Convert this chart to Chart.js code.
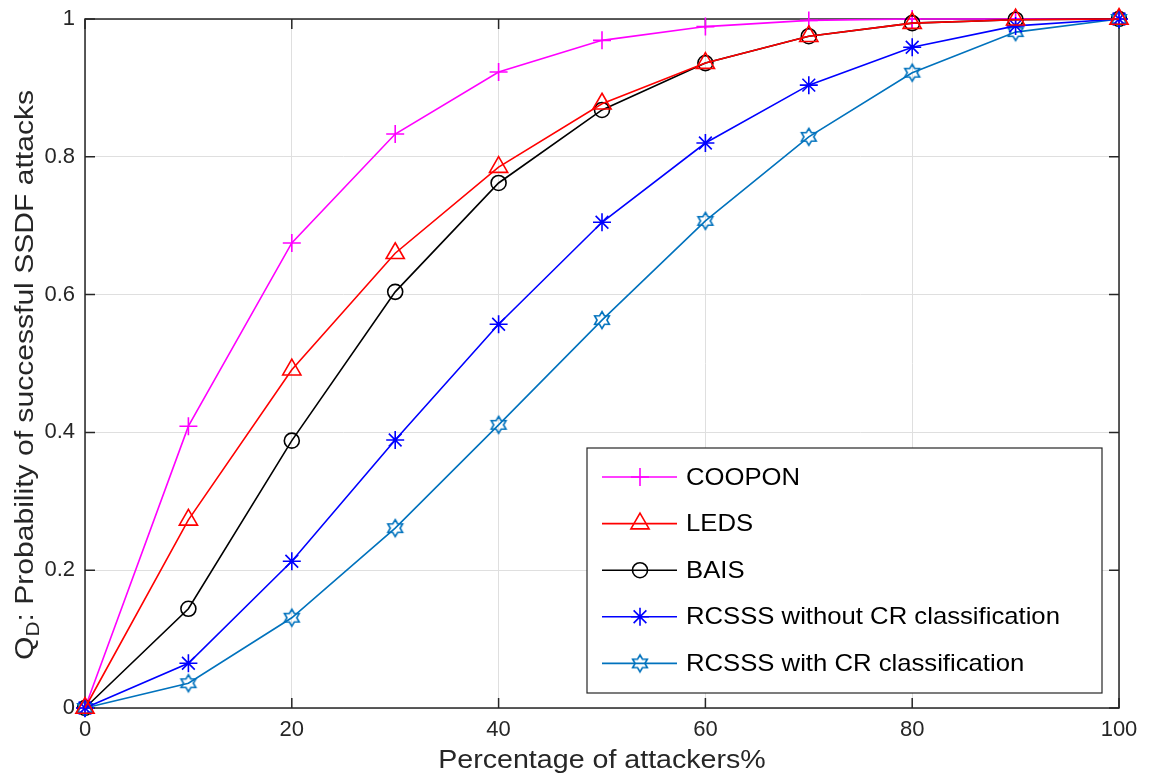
<!DOCTYPE html>
<html>
<head>
<meta charset="utf-8">
<script src="https://cdn.jsdelivr.net/npm/chart.js@4.4.0/dist/chart.umd.min.js"></script>
<style>
  html, body { margin: 0; padding: 0; background: #ffffff; }
  #wrap { width: 1150px; height: 778px; position: relative; }
</style>
</head>
<body>
<div id="wrap"><canvas id="c" width="1150" height="778"></canvas></div>
<script>
// ---- data ----
const attackers = [0, 10, 20, 30, 40, 50, 60, 70, 80, 90, 100];
const coopon = [0, 0.409, 0.675, 0.833, 0.923, 0.969, 0.989, 0.998, 1.0, 1.0, 1.0];
const leds = [0, 0.273, 0.491, 0.660, 0.785, 0.877, 0.936, 0.975, 0.994, 0.999, 1.0];
const bais = [0, 0.144, 0.388, 0.604, 0.762, 0.868, 0.936, 0.975, 0.994, 0.999, 1.0];
const rcsssWithout = [0, 0.065, 0.213, 0.389, 0.557, 0.705, 0.820, 0.904, 0.959, 0.990, 1.0];
const rcsssWith = [0, 0.036, 0.131, 0.261, 0.411, 0.563, 0.707, 0.829, 0.922, 0.981, 1.0];
const seriesNames = ['COOPON', 'LEDS', 'BAIS', 'RCSSS without CR classification', 'RCSSS with CR classification'];
const xTicks = [0, 20, 40, 60, 80, 100];
const yTicks = [0, 0.2, 0.4, 0.6, 0.8, 1];
const yTickLabels = ['0', '0.2', '0.4', '0.6', '0.8', '1'];
const xTitle = 'Percentage of attackers%';
const yTitleMain = 'Q';
const yTitleSub = 'D';
const yTitleRest = ': Probability of successful SSDF attacks';

const FONT = '"Liberation Sans", Arial, Helvetica, sans-serif';
const AXIS = '#262626';
const GRID = '#dfdfdf';

// hexagram marker
function makeHexagram(color) {
  const c = document.createElement('canvas');
  c.width = 22; c.height = 22;
  const g = c.getContext('2d');
  const R = 8.5, r = R / Math.sqrt(3);
  g.beginPath();
  for (let k = 0; k < 12; k++) {
    const ang = -Math.PI / 2 + k * Math.PI / 6;
    const rad = (k % 2 === 0) ? R : r;
    const px = 11 + rad * Math.cos(ang), py = 11 + rad * Math.sin(ang);
    if (k === 0) g.moveTo(px, py); else g.lineTo(px, py);
  }
  g.closePath();
  g.strokeStyle = color;
  g.lineWidth = 1.6;
  g.stroke();
  return c;
}
const hexagram = makeHexagram('#0072BD');

const styles = [
  { color: '#FF00FF', pointStyle: 'cross', radius: 9, order: 5 },
  { color: '#FF0000', pointStyle: 'triangle', radius: 10.5, order: 1 },
  { color: '#000000', pointStyle: 'circle', radius: 7.5, order: 4 },
  { color: '#0000FF', pointStyle: 'star', radius: 9, order: 2 },
  { color: '#0072BD', pointStyle: hexagram, radius: 8.5, order: 3 }
];
const seriesValues = [coopon, leds, bais, rcsssWithout, rcsssWith];

const datasets = seriesValues.map((vals, i) => ({
  label: seriesNames[i],
  data: attackers.map((x, j) => ({ x: x, y: vals[j] })),
  borderColor: styles[i].color,
  backgroundColor: 'rgba(0,0,0,0)',
  pointBorderColor: styles[i].color,
  pointBackgroundColor: 'rgba(0,0,0,0)',
  pointStyle: styles[i].pointStyle,
  pointRadius: styles[i].radius,
  pointBorderWidth: 1.6,
  borderWidth: 1.6,
  tension: 0,
  fill: false,
  clip: false,
  order: styles[i].order
}));

function drawMarker(ctx, st, x, y) {
  if (typeof st.pointStyle === 'string') {
    ctx.save();
    ctx.strokeStyle = st.color;
    ctx.fillStyle = 'rgba(0,0,0,0)';
    ctx.lineWidth = 1.6;
    Chart.helpers.drawPoint(ctx, { pointStyle: st.pointStyle, radius: st.radius, rotation: 0, borderWidth: 1.6 }, x, y);
    ctx.restore();
  } else {
    ctx.drawImage(st.pointStyle, x - st.pointStyle.width / 2, y - st.pointStyle.height / 2);
  }
}

const framePlugin = {
  id: 'frame',
  beforeDatasetsDraw(chart) {
    const ctx = chart.ctx;
    const a = chart.chartArea;
    const xs = chart.scales.x, ys = chart.scales.y;
    ctx.save();
    ctx.strokeStyle = AXIS;
    ctx.lineWidth = 1.5;
    ctx.strokeRect(a.left, a.top, a.right - a.left, a.bottom - a.top);
    const tl = 10;
    ctx.beginPath();
    xTicks.forEach(v => {
      const px = xs.getPixelForValue(v);
      ctx.moveTo(px, a.bottom); ctx.lineTo(px, a.bottom - tl);
      ctx.moveTo(px, a.top); ctx.lineTo(px, a.top + tl);
    });
    yTicks.forEach(v => {
      const py = ys.getPixelForValue(v);
      ctx.moveTo(a.left, py); ctx.lineTo(a.left + tl, py);
      ctx.moveTo(a.right, py); ctx.lineTo(a.right - tl, py);
    });
    ctx.stroke();
    ctx.restore();
  },
  afterDraw(chart) {
    const ctx = chart.ctx;
    const a = chart.chartArea;
    ctx.save();
    // x title
    ctx.fillStyle = AXIS;
    ctx.font = '26px ' + FONT;
    ctx.textBaseline = 'alphabetic';
    ctx.textAlign = 'center';
    ctx.save();
    ctx.translate((a.left + a.right) / 2, 768);
    ctx.scale(1.1, 1);
    ctx.fillText(xTitle, 0, 0);
    ctx.restore();

    // y title (rotated, with subscript)
    ctx.save();
    ctx.translate(33, 375);
    ctx.rotate(-Math.PI / 2);
    const big = '26px ' + FONT, small = '18px ' + FONT;
    ctx.font = big; const wQ = ctx.measureText(yTitleMain).width;
    const wR = ctx.measureText(yTitleRest).width;
    ctx.font = small; const wD = ctx.measureText(yTitleSub).width;
    const total = wQ + wD + wR;
    const sx = 570 / total;
    ctx.scale(sx, 1);
    let cx = -total / 2;
    ctx.textAlign = 'left';
    ctx.font = big; ctx.fillText(yTitleMain, cx, 0); cx += wQ;
    ctx.font = small; ctx.fillText(yTitleSub, cx, 6); cx += wD;
    ctx.font = big; ctx.fillText(yTitleRest, cx, 0);
    ctx.restore();

    // legend
    const lx0 = 587, ly0 = 448, lx1 = 1102, ly1 = 693;
    ctx.fillStyle = '#ffffff';
    ctx.fillRect(lx0, ly0, lx1 - lx0, ly1 - ly0);
    ctx.strokeStyle = AXIS;
    ctx.lineWidth = 1.2;
    ctx.strokeRect(lx0, ly0, lx1 - lx0, ly1 - ly0);
    seriesNames.forEach((name, i) => {
      const ry = 477 + i * 46.6;
      const st = styles[i];
      ctx.strokeStyle = st.color;
      ctx.lineWidth = 1.6;
      ctx.beginPath();
      ctx.moveTo(602, ry); ctx.lineTo(677, ry);
      ctx.stroke();
      drawMarker(ctx, st, 640, ry);
      ctx.save();
      ctx.fillStyle = '#000000';
      ctx.font = '24px ' + FONT;
      ctx.textAlign = 'left';
      ctx.textBaseline = 'middle';
      ctx.translate(686, ry + 1);
      ctx.scale(1.07, 1);
      ctx.fillText(name, 0, 0);
      ctx.restore();
    });
    ctx.restore();
  }
};

new Chart(document.getElementById('c'), {
  type: 'line',
  data: { datasets: datasets },
  options: {
    responsive: false,
    animation: false,
    layout: { padding: { top: 19, right: 31, left: 0, bottom: 0 } },
    plugins: { legend: { display: false }, tooltip: { enabled: false } },
    scales: {
      x: {
        type: 'linear',
        min: 0, max: 100,
        afterFit(s) { s.height = 70; s.paddingLeft = 0; s.paddingRight = 0; },
        afterBuildTicks(s) { s.ticks = xTicks.map(v => ({ value: v })); },
        grid: { color: GRID, lineWidth: 1, drawTicks: false },
        border: { display: false },
        ticks: { color: AXIS, font: { family: FONT, size: 22 }, padding: 9, maxRotation: 0,
                 callback: (v) => String(v) }
      },
      y: {
        type: 'linear',
        min: 0, max: 1,
        afterFit(s) { s.width = 85; s.paddingTop = 0; s.paddingBottom = 0; },
        afterBuildTicks(s) { s.ticks = yTicks.map(v => ({ value: v })); },
        grid: { color: GRID, lineWidth: 1, drawTicks: false },
        border: { display: false },
        ticks: { color: AXIS, font: { family: FONT, size: 22 }, padding: 10,
                 callback: (v) => { const k = yTicks.indexOf(v); return k >= 0 ? yTickLabels[k] : ''; } }
      }
    }
  },
  plugins: [framePlugin]
});
</script>
</body>
</html>
